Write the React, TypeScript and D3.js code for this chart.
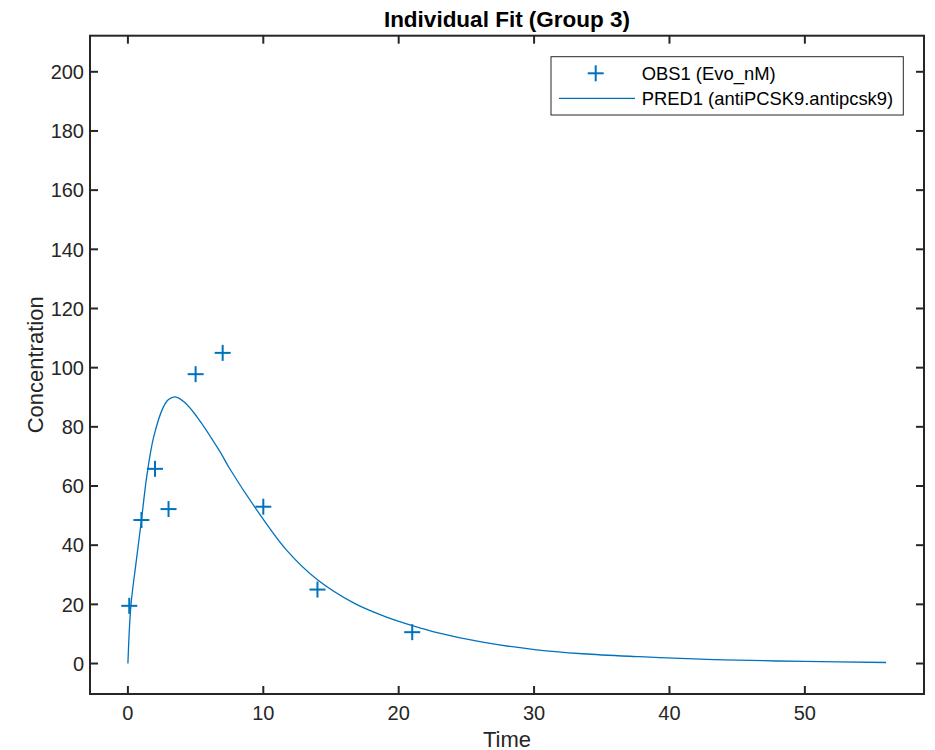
import React from "react";
import * as d3 from "d3";

const obsTime = [0.1, 1, 2, 3, 5, 7, 10, 14, 21];
const obsConc = [19.5, 48.5, 65.8, 52.2, 97.8, 105, 53, 25, 10.6];

const predTime = [0, 0.22, 0.6, 1, 1.4, 1.9, 2.6, 3.0, 3.5, 4.2, 5.1, 6.8, 7.5, 9.5, 11.7, 14, 16.7, 19.1, 21.6, 22.6, 26.2, 29.9, 33.6, 37.8, 39.3, 44, 50, 56];
const predConc = [0, 19.5, 34, 48.5, 63.5, 76.5, 86.5, 89.2, 90.1, 88.2, 83.4, 71.6, 66, 52, 38.4, 28.3, 20.4, 15.7, 12, 10.7, 7.2, 4.8, 3.3, 2.3, 2.0, 1.25, 0.7, 0.35];

const xTicks = [0, 10, 20, 30, 40, 50];
const yTicks = [0, 20, 40, 60, 80, 100, 120, 140, 160, 180, 200];

const title = "Individual Fit (Group 3)";
const xLabel = "Time";
const yLabel = "Concentration";
const legendLabels = ["OBS1 (Evo_nM)", "PRED1 (antiPCSK9.antipcsk9)"];

const W = 935;
const H = 750;
const L = 90;
const R = 924;
const T = 35.7;
const B = 694;
const blue = "#0072BD";
const axisColor = "#262626";
const font = "'Liberation Sans', Arial, Helvetica, sans-serif";

export default function App() {
  const x = d3.scaleLinear().domain([-2.8, 58.8]).range([L, R]);
  const y = d3.scaleLinear().domain([-10.3, 212.2]).range([B, T]);
  const line = d3
    .line<number>()
    .x((_, i) => x(predTime[i]))
    .y((d) => y(d))
    .curve(d3.curveCatmullRom.alpha(0.5));
  const tl = 8;
  const ms = 8;
  return (
    <svg width={W} height={H} style={{ position: "absolute", left: 0, top: 0 }} fontFamily={font}>
      <rect x={0} y={0} width={W} height={H} fill="#fff" />
      <text x={(L + R) / 2} y={27} textAnchor="middle" fontWeight="bold" fontSize={22.5} fill="#000">
        {title}
      </text>
      <path d={line(predConc) || ""} fill="none" stroke={blue} strokeWidth={1.3} />
      {obsTime.map((t, i) => (
        <g key={i} stroke={blue} strokeWidth={2}>
          <line x1={x(t) - ms} x2={x(t) + ms} y1={y(obsConc[i])} y2={y(obsConc[i])} />
          <line x1={x(t)} x2={x(t)} y1={y(obsConc[i]) - ms} y2={y(obsConc[i]) + ms} />
        </g>
      ))}
      <g stroke={axisColor} strokeWidth={2}>
        {xTicks.map((t) => (
          <g key={t}>
            <line x1={x(t)} x2={x(t)} y1={B} y2={B - tl} />
            <line x1={x(t)} x2={x(t)} y1={T} y2={T + tl} />
          </g>
        ))}
        {yTicks.map((t) => (
          <g key={t}>
            <line x1={L} x2={L + tl} y1={y(t)} y2={y(t)} />
            <line x1={R} x2={R - tl} y1={y(t)} y2={y(t)} />
          </g>
        ))}
        <rect x={L} y={T} width={R - L} height={B - T} fill="none" />
      </g>
      <g fill={axisColor} fontSize={20}>
        {xTicks.map((t) => (
          <text key={t} x={x(t)} y={719.5} textAnchor="middle">
            {t}
          </text>
        ))}
        {yTicks.map((t) => (
          <text key={t} x={84} y={y(t) + 7.2} textAnchor="end">
            {t}
          </text>
        ))}
        <text x={(L + R) / 2} y={746.5} textAnchor="middle" fontSize={22}>
          {xLabel}
        </text>
        <text transform={`translate(43,${(T + B) / 2}) rotate(-90)`} textAnchor="middle" fontSize={22}>
          {yLabel}
        </text>
      </g>
      <g>
        <rect x={551} y={56.7} width={352.3} height={58.3} fill="#fff" stroke={axisColor} strokeWidth={1} />
        <line x1={595.7 - ms} x2={595.7 + ms} y1={73.3} y2={73.3} stroke={blue} strokeWidth={2} />
        <line x1={595.7} x2={595.7} y1={73.3 - ms} y2={73.3 + ms} stroke={blue} strokeWidth={2} />
        <line x1={559} x2={635} y1={98.3} y2={98.3} stroke={blue} strokeWidth={1.3} />
        <text x={641.7} y={79.8} fontSize={18.4} fill="#000">
          {legendLabels[0]}
        </text>
        <text x={641.7} y={104.8} fontSize={18.4} fill="#000">
          {legendLabels[1]}
        </text>
      </g>
    </svg>
  );
}
